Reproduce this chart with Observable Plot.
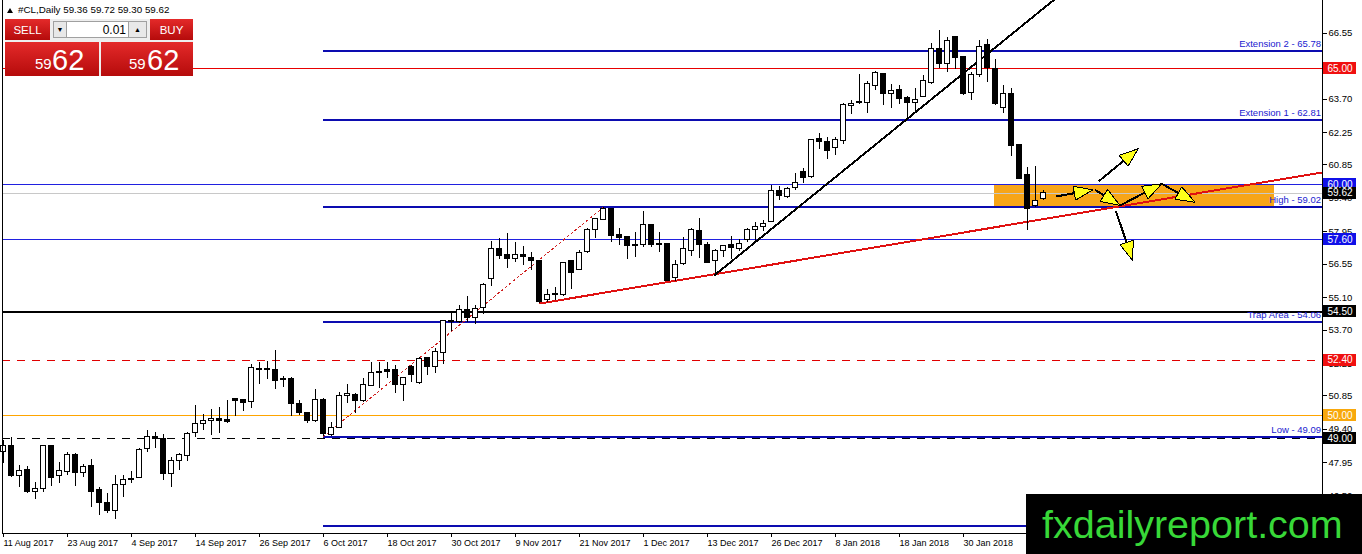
<!DOCTYPE html>
<html><head><meta charset="utf-8">
<script src="https://cdn.jsdelivr.net/npm/d3@7"></script>
<script src="https://cdn.jsdelivr.net/npm/@observablehq/plot@0.6"></script>
<style>
html,body{margin:0;padding:0;background:#fff;width:1362px;height:554px;overflow:hidden;font-family:"Liberation Sans",Arial,sans-serif;}
#chart{position:absolute;left:0;top:0;}
#chart svg *{shape-rendering:crispEdges;}
.ov{position:absolute;}
#hdr{left:18px;top:4px;font-size:9.8px;color:#000;white-space:nowrap;}
#tri{left:7px;top:8px;width:0;height:0;border-left:3.5px solid transparent;border-right:3.5px solid transparent;border-bottom:5px solid #000;}
.red{background:linear-gradient(#e42a2a,#b50b0b);color:#fff;}
#panel{left:5px;top:19px;width:188px;height:57px;background:#eeeeee;}
#sell{left:5px;top:19px;width:45px;height:21px;font-size:11.5px;line-height:22px;text-align:center;}
#buy{left:150px;top:19px;width:43px;height:21px;font-size:11.5px;line-height:22px;text-align:center;}
#dn{left:53px;top:21px;width:14px;height:17px;background:#e8e8e8;border:1px solid #a0a0a0;box-sizing:border-box;font-size:7px;line-height:16px;text-align:center;}
#up{left:128px;top:21px;width:19px;height:17px;background:#e8e8e8;border:1px solid #a0a0a0;box-sizing:border-box;font-size:7px;line-height:16px;text-align:center;}
#inp{left:67px;top:21px;width:61px;height:17px;background:#fff;border-top:1px solid #a0a0a0;border-bottom:1px solid #a0a0a0;box-sizing:border-box;font-size:12px;line-height:16px;text-align:right;padding-right:2px;}
#bl{left:5px;top:42px;width:94px;height:34px;}
#br{left:101px;top:42px;width:92px;height:34px;}
.small{position:absolute;font-size:15px;top:13px;}
.big{position:absolute;font-size:29px;top:2px;}
#logo{left:1026px;top:494px;width:336px;height:60px;background:#000;}
#logo span{position:absolute;left:16px;top:8px;font-size:39.5px;color:#38d838;font-family:"Liberation Sans",Arial,sans-serif;letter-spacing:0;}
</style></head><body>
<div id="chart"></div>
<div class="ov" id="tri"></div>
<div class="ov" id="hdr"></div>
<div class="ov" id="panel"></div>
<div class="ov red" id="sell">SELL</div>
<div class="ov" id="dn">&#9660;</div>
<div class="ov" id="inp">0.01</div>
<div class="ov" id="up">&#9650;</div>
<div class="ov red" id="buy">BUY</div>
<div class="ov red" id="bl"><span class="small" style="left:30px">59</span><span class="big" style="left:47px">62</span></div>
<div class="ov red" id="br"><span class="small" style="left:28px">59</span><span class="big" style="left:46px">62</span></div>
<div class="ov" id="logo"><span>fxdailyreport.com</span></div>
<script>
// ---------- DATA ----------
const symbolTitle = "#CL,Daily";
const lastOHLC = [59.36, 59.72, 59.30, 59.62];

const openP = [48.43,48.69,47.37,47.66,46.70,46.83,48.66,47.36,47.56,48.27,47.52,47.82,46.78,46.22,45.87,47.00,47.19,47.30,48.53,49.08,
48.99,47.47,48.04,48.25,49.25,49.65,49.77,49.84,49.80,50.71,50.65,50.58,51.98,52.02,51.99,51.56,51.60,50.48,50.10,49.75,
50.65,49.16,49.48,50.86,50.89,50.62,51.28,51.85,51.95,51.99,51.33,52.09,51.41,52.50,52.09,52.71,54.04,54.04,54.55,54.21,
54.65,55.92,57.21,56.93,56.78,56.95,56.83,56.67,54.98,55.23,55.20,56.67,56.31,57.07,58.01,58.47,58.95,57.82,57.71,57.39,
57.39,58.23,57.43,57.43,55.96,56.57,57.10,57.97,57.39,56.67,57.10,57.36,57.22,57.60,58.01,58.15,58.37,59.71,59.48,59.86,
60.56,60.32,61.95,61.86,61.59,61.88,63.41,63.52,63.52,64.27,64.79,63.90,64.07,63.75,63.54,63.78,64.39,65.87,65.22,66.38,
65.54,63.95,64.75,66.06,65.01,63.32,63.90,61.69,60.43,59.05,59.36];
const highP = [48.92,49.06,47.82,47.79,47.10,48.68,48.68,47.97,48.40,48.37,47.86,48.11,46.90,46.61,47.39,47.39,47.58,48.58,49.35,49.26,
49.16,48.20,48.37,49.28,50.43,50.04,50.25,50.36,50.64,50.74,50.68,52.21,52.31,52.35,52.81,51.69,51.66,50.65,50.15,51.11,
50.72,49.71,50.98,51.35,50.94,51.62,52.31,52.31,52.31,52.16,51.66,52.16,52.52,52.52,52.89,54.11,54.44,54.76,55.17,54.76,
55.70,57.55,57.65,57.86,57.47,57.33,57.04,56.71,55.44,55.55,56.61,56.67,57.14,58.08,58.54,59.02,58.98,58.08,57.75,57.94,
58.83,58.23,57.94,57.43,56.71,57.72,58.08,58.51,57.50,57.19,57.36,57.75,57.60,58.11,58.37,58.44,59.96,59.93,59.89,60.46,
60.68,61.93,62.19,62.05,62.02,63.49,63.64,64.76,64.47,64.89,64.82,64.32,64.29,63.81,64.14,64.72,66.09,66.67,66.38,66.41,
65.56,64.86,66.23,66.26,65.40,64.29,64.14,61.72,60.75,60.78,59.72];
const lowP = [47.92,47.30,46.90,46.61,46.35,46.68,46.93,47.07,47.42,46.94,47.30,46.03,45.66,45.77,45.48,46.47,47.07,47.26,48.41,48.56,
47.19,46.90,47.62,48.02,49.06,49.35,49.13,49.24,49.64,49.96,50.19,50.29,51.34,51.57,51.14,51.23,49.96,50.00,49.65,49.71,
49.09,49.10,49.45,50.52,50.07,50.58,51.25,51.16,51.62,50.97,50.62,51.44,51.33,51.73,51.80,52.19,53.64,53.97,54.04,53.92,
54.36,55.58,56.75,56.35,56.64,56.49,56.28,54.85,54.88,54.98,55.17,55.45,56.28,57.00,57.68,58.44,57.50,57.36,56.75,56.84,
57.29,57.29,57.04,55.80,55.80,56.49,56.88,56.78,56.57,56.06,56.85,56.75,57.10,57.50,57.50,57.98,58.37,59.31,59.38,59.74,
60.03,60.25,61.52,61.07,61.26,61.73,63.03,63.46,63.09,64.07,63.42,63.28,63.46,62.84,63.13,63.75,64.33,65.01,64.86,64.96,
63.85,63.64,64.62,64.43,63.42,63.09,61.21,60.20,58.01,59.02,59.30];
const closeP = [48.69,47.36,47.61,46.68,46.84,48.66,47.30,47.58,48.30,47.50,47.78,46.68,46.20,45.87,47.00,47.22,47.27,48.51,49.06,49.02,
47.47,48.01,48.27,49.21,49.65,49.75,49.87,49.77,49.70,50.62,50.56,52.06,52.02,51.95,51.49,51.52,50.51,50.09,49.78,50.68,
49.20,49.48,50.85,50.95,50.62,51.33,51.86,51.87,51.88,51.30,51.62,51.76,52.45,52.12,52.74,54.08,54.07,54.55,54.21,54.62,
55.66,57.19,56.90,56.78,56.95,56.85,56.68,54.91,55.22,55.27,56.61,56.18,57.04,58.01,58.51,58.95,57.76,57.68,57.33,57.33,
58.25,57.36,57.39,55.84,56.52,57.22,58.01,57.39,56.61,57.14,57.32,57.26,57.43,58.01,58.18,58.30,59.71,59.52,59.81,60.06,
60.27,61.91,61.83,61.47,61.91,63.45,63.49,63.56,64.33,64.82,63.90,64.03,63.71,63.52,63.64,64.46,65.87,65.22,66.23,65.48,
63.90,64.76,65.97,65.05,63.49,63.90,61.65,60.25,58.95,59.28,59.62];

const xTickIndex = [0,8,16,24,32,40,48,56,64,72,80,88,96,104,112,120];
const xTickLabels = ["11 Aug 2017","23 Aug 2017","4 Sep 2017","14 Sep 2017","26 Sep 2017","6 Oct 2017","18 Oct 2017","30 Oct 2017",
"9 Nov 2017","21 Nov 2017","1 Dec 2017","13 Dec 2017","26 Dec 2017","8 Jan 2018","18 Jan 2018","30 Jan 2018"];
const yTicks = [66.55,65.10,63.70,62.25,60.85,59.40,57.95,56.55,55.10,53.70,52.25,50.85,49.40,47.95,46.50];

// Fibonacci-expansion levels (start at the swing low bar)
const fiboStart = 40;
const fiboLevels = [65.78, 62.81, 59.02, 54.06, 49.09, 45.20];
const fiboNames  = ["Extension 2 - 65.78","Extension 1 - 62.81","High - 59.02","Trap Area - 54.06","Low - 49.09",""];
// full-width horizontal lines with price boxes
const hLevels = [65.00, 60.00, 59.62, 57.60, 54.50, 52.40, 50.00, 49.00];
const hKinds  = ["red","blue","price","blue","black","reddash","orange","blackdash"];

// trend lines [bar index, price]
const redTrend   = [[67.06,54.85],[164.81,60.52]];
const blackTrend = [[88.9,56.08],[131.3,67.99]];
const fiboBase   = [[40,49.09],[75,59.02]];
// zone rectangle
const zone = {i1:123.9, i2:158.85, p1:59.02, p2:60.00};
// yellow arrows [i1,p1,i2,p2]
const arrows = [
  [131.56,59.48,136.19,59.77],
  [136.44,59.77,139.56,59.09],
  [139.56,59.09,144.78,60.03],
  [144.78,60.03,148.94,59.23],
  [136.91,60.14,141.85,61.55],
  [139.06,58.84,141.15,56.71]
];

// ---------- LAYOUT ----------
const W = 1362, H = 554;
const X_DOMAIN = [-0.1875, 164.8125], X_RANGE = [1.5, 1321.5];
const Y_DOMAIN = [44.892, 67.965], Y_RANGE = [533, 0];
const xs = d3.scaleLinear(X_DOMAIN, X_RANGE);
const ys = d3.scaleLinear(Y_DOMAIN, Y_RANGE);
const xMax = X_DOMAIN[1], yMin = Y_DOMAIN[0];

document.getElementById("hdr").textContent = symbolTitle + "  " + lastOHLC.map(v=>v.toFixed(2)).join(" ");

const candles = openP.map((o,i)=>({i, o, h:highP[i], l:lowP[i], c:closeP[i]}));
const up = candles.filter(d=>d.c>=d.o), dn = candles.filter(d=>d.c<d.o);
const BW = 0.3;

const colors = {red:"#f01010", blue:"#1010e8", price:"#000", black:"#000", reddash:"#f01010", orange:"#f8a80c", blackdash:"#000"};
const lineColor = {red:"#e80000", blue:"#2020e0", price:"#c8c8c8", black:"#000", reddash:"#e00000", orange:"#ffa500", blackdash:"#000"};
const hData = hLevels.map((v,k)=>({v, kind:hKinds[k]}));
const fData = fiboLevels.map((v,k)=>({v, name:fiboNames[k]}));

// arrows geometry (pixel space -> data)
const shafts = [], heads = [];
arrows.forEach((a,k)=>{
  const x1=xs(a[0]), y1=ys(a[1]), x2=xs(a[2]), y2=ys(a[3]);
  const ang=Math.atan2(y2-y1,x2-x1), L=19, Wd=7;
  const bx=x2-L*Math.cos(ang), by=y2-L*Math.sin(ang);
  const nx=-Math.sin(ang), ny=Math.cos(ang);
  shafts.push({x1:a[0],y1:a[1],x2:xs.invert(bx+2*Math.cos(ang)),y2:ys.invert(by+2*Math.sin(ang))});
  const pts=[[x2,y2],[bx+Wd*nx,by+Wd*ny],[bx-Wd*nx,by-Wd*ny],[x2,y2]];
  pts.forEach(p=>heads.push({id:k, i:xs.invert(p[0]), p:ys.invert(p[1])}));
});

const boxX1 = xs.invert(1323), boxX2 = xs.invert(1356), boxXc = xs.invert(1339.5);
const halfBox = ys.invert(0) - ys.invert(6);
const labelX = xs.invert(1320.5);

const lineStyle = k => ({
  stroke: lineColor[k],
  strokeWidth: k==="black" ? 2 : 1,
  strokeDasharray: (k==="reddash"||k==="blackdash") ? "8,7" : null
});

const marks = [
  Plot.rect([zone], {x1:"i1", x2:"i2", y1:"p1", y2:"p2", fill:"#f7a518"}),
  ...hKinds.map((k,idx)=>Plot.ruleY([hLevels[idx]], {x1:X_DOMAIN[0], x2:xMax, ...lineStyle(k)})),
  Plot.ruleY(fData, {y:"v", x1:fiboStart, x2:xMax, stroke:"#0c0cb0", strokeWidth:2}),
  Plot.text(fData, {x:labelX, y:"v", text:"name", textAnchor:"end", dy:-7, fill:"#1a1ad0", fontSize:9.5}),
  Plot.line(fiboBase, {x:d=>d[0], y:d=>d[1], stroke:"#d02020", strokeWidth:1, strokeDasharray:"2,3"}),
  Plot.line(redTrend, {x:d=>d[0], y:d=>d[1], stroke:"#e01010", strokeWidth:2}),
  Plot.line(blackTrend, {x:d=>d[0], y:d=>d[1], stroke:"#000", strokeWidth:2}),
  Plot.ruleX(candles, {x:"i", y1:"l", y2:"h", stroke:"#000", strokeWidth:1}),
  Plot.rect(up, {x1:d=>d.i-BW, x2:d=>d.i+BW, y1:"o", y2:"c", fill:"#fff", stroke:"#000", strokeWidth:1}),
  Plot.rect(dn, {x1:d=>d.i-BW, x2:d=>d.i+BW, y1:"o", y2:"c", fill:"#000", stroke:"#000", strokeWidth:1}),
  Plot.link(shafts, {x1:"x1", y1:"y1", x2:"x2", y2:"y2", stroke:"#000", strokeWidth:2}),
  Plot.line(heads, {x:"i", y:"p", z:"id", fill:"#ffff1a", stroke:"#000", strokeWidth:1, strokeLinejoin:"miter"}),
  Plot.ruleY([yMin], {stroke:"#000", strokeWidth:1}),
  Plot.ruleX([xMax], {stroke:"#000", strokeWidth:1}),
  Plot.ruleX([X_DOMAIN[0]], {stroke:"#000", strokeWidth:1}),
  Plot.axisY(yTicks, {anchor:"right", tickSize:4, tickPadding:2, tickFormat:d=>d.toFixed(2), fontSize:9.5, stroke:"#000"}),
  Plot.axisX(xTickIndex, {anchor:"bottom", tickSize:4, tickPadding:2.5, tickFormat:d=>xTickLabels[xTickIndex.indexOf(d)], textAnchor:"start", dx:0, fontSize:9, stroke:"#000"}),
  Plot.rect(hData, {x1:boxX1, x2:boxX2, y1:d=>d.v-halfBox, y2:d=>d.v+halfBox, fill:d=>colors[d.kind]}),
  Plot.text(hData, {x:boxXc, y:"v", text:d=>d.v.toFixed(2), fill:"#fff", fontSize:10})
];

const chart = Plot.plot({
  width:W, height:H, marginLeft:2, marginRight:40, marginTop:0, marginBottom:21,
  x:{type:"linear", domain:X_DOMAIN, range:X_RANGE, axis:null},
  y:{type:"linear", domain:Y_DOMAIN, range:Y_RANGE, axis:null},
  style:{fontFamily:"'Liberation Sans', Arial, sans-serif", background:"#fff", overflow:"visible", color:"#000"},
  marks
});
document.getElementById("chart").appendChild(chart);
</script>
</body></html>
